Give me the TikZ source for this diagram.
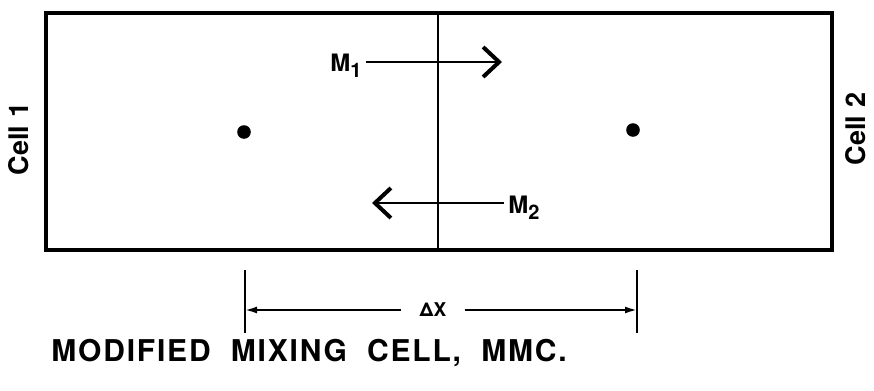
\documentclass[tikz,border=0pt]{standalone}
\usepackage{fontspec}
\setmainfont{TeX Gyre Heros}
\usepackage{xcolor}
\usetikzlibrary{arrows.meta}
\definecolor{tinta}{RGB}{0,0,0}

\begin{document}
\begin{tikzpicture}[x=0.5pt, y=-0.5pt, font=\bfseries, text=tinta,
    flujo/.style={line width=1.4pt, -{Straight Barb[length=8pt, width=15pt, line width=2pt]}},
    cota/.style={line width=1pt, -{Latex[length=6pt, width=3.5pt]}}]
    \useasboundingbox (0,0) rectangle (874,391);
    % celdas
    \draw[tinta, line width=2pt] (46,13) rectangle (832,250);
    \draw[tinta, line width=1.4pt] (438,13) -- (438,250);
    \node[circle, fill=tinta, inner sep=0pt, minimum size=6.8pt] (centro1) at (244,132) {};
    \node[circle, fill=tinta, inner sep=0pt, minimum size=6.8pt] (centro2) at (633,130) {};
    \node[rotate=90, font=\bfseries\fontsize{13.5}{15}\selectfont] (celda1) at (19,139) {Cell 1};
    \node[rotate=90, font=\bfseries\fontsize{13.5}{15}\selectfont] (celda2) at (856,129) {Cell 2};
    % flujos
    \node[anchor=east, inner sep=2pt, font=\bfseries\fontsize{12}{14}\selectfont] (m1) at (366,66) {M\raisebox{-3pt}{\fontsize{10}{12}\selectfont 1}};
    \coordinate (fin1) at (502,62);
    \draw[flujo] (m1.east |- fin1) -- (fin1);
    \node[anchor=west, inner sep=2pt, font=\bfseries\fontsize{12}{14}\selectfont] (m2) at (504,208) {M\raisebox{-3pt}{\fontsize{10}{12}\selectfont 2}};
    \coordinate (fin2) at (372,203);
    \draw[flujo] (m2.west |- fin2) -- (fin2);
    % distancia
    \draw[tinta, line width=1.2pt] (245,270) -- (245,333);
    \draw[tinta, line width=1.2pt] (637,270) -- (637,333);
    \node[inner sep=1pt, font=\bfseries\fontsize{9.5}{11}\selectfont] (dx) at (433,310) {ΔX};
    \coordinate (izq) at (245,310);
    \coordinate (der) at (637,310);
    \draw[cota] (dx.west) ++(-8pt,0) -- (izq);
    \draw[cota] (dx.east) ++(8pt,0) -- (der);
    \node[anchor=west, inner sep=0pt, font=\bfseries\fontsize{15}{17}\selectfont\addfontfeatures{LetterSpace=6}] (titulo) at (51,353) {MODIFIED\ \ MIXING\ \ CELL,\ \ MMC.};
\end{tikzpicture}
\end{document}
